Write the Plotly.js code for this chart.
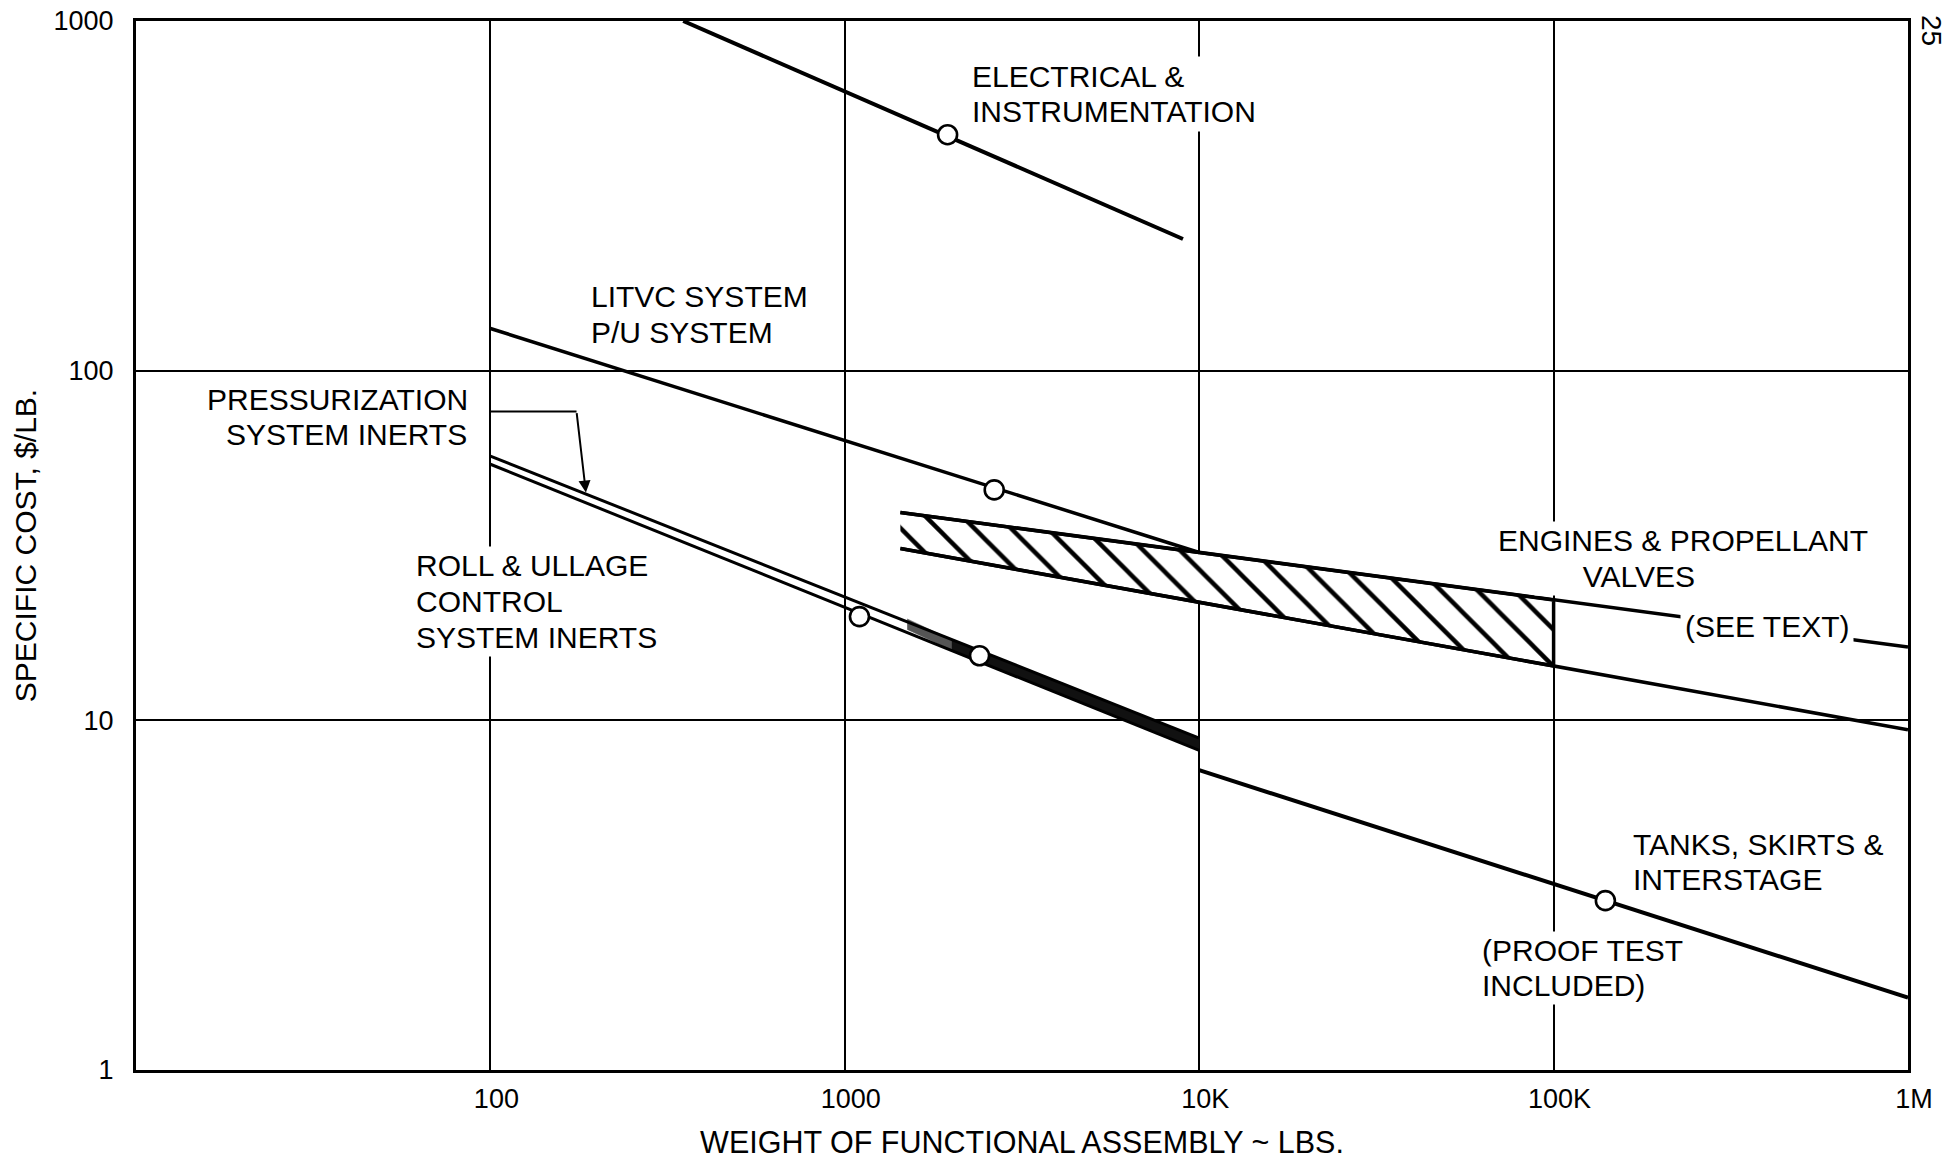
<!DOCTYPE html>
<html>
<head>
<meta charset="utf-8">
<script src="https://cdn.plot.ly/plotly-3.0.1.min.js"></script>
<style>html,body{margin:0;padding:0;background:#fff;}#chart{width:1955px;height:1159px;}</style>
</head>
<body>
<div id="chart"></div>
<script>
// ---- Axis ticks ----
const xTickVals = [100, 1000, 10000, 100000, 1000000];
const xTickText = ['100', '1000', '10K', '100K', '1M'];
const yTickVals = [1, 10, 100, 1000];
const yTickText = ['1', '10', '100', '1000'];

// ---- Electrical & instrumentation ----
const elecX = [350, 9000];
const elecY = [1000, 238];
const elecPtX = [1950];
const elecPtY = [473];

// ---- LITVC system / P/U system ----
const litvcX = [100, 10000];
const litvcY = [132, 30.2];
const litvcPtX = [2640];
const litvcPtY = [45.6];

// ---- Engines & propellant valves (band) ----
const engTopX = [1435, 1000000];
const engTopY = [39.3, 16.2];
const engBotX = [1435, 1000000];
const engBotY = [31, 9.4];
const engBandX = [1435, 100000, 100000, 1435];
const engBandY = [39.3, 22.1, 14.3, 31];

// ---- Pressurization system inerts / Roll & ullage control system inerts ----
const pressX = [100, 10000];
const pressY = [57, 8.9];
const rollX = [100, 10000];
const rollY = [54, 8.2];
const halfX = [1500, 2000, 2000, 1500];
const halfY = [19.5, 17.0, 15.9, 18.2];
const denseX = [2000, 10000, 10000, 2000];
const denseY = [17.0, 8.9, 8.2, 15.9];
const rollPtX = [1100, 2400];
const rollPtY = [19.8, 15.3];
const pressLeaderX = [100, 175];
const pressLeaderY = [76.4, 76.4];
const pressArrowTip = [186, 44.8];

// ---- Tanks, skirts & interstage ----
const tankX = [10000, 1000000];
const tankY = [7.2, 1.61];
const tankPtX = [140000];
const tankPtY = [3.05];

const INK = '#000';
const FONT = 'Liberation Sans, Arial, sans-serif';

function line(x, y, w) {
  return {x: x, y: y, type: 'scatter', mode: 'lines', line: {color: INK, width: w || 3.5}, hoverinfo: 'skip'};
}
function pts(x, y) {
  return {x: x, y: y, type: 'scatter', mode: 'markers',
    marker: {size: 19, color: 'white', line: {color: INK, width: 2.6}}, hoverinfo: 'skip'};
}

const traces = [
  // hatched band
  {x: engBandX, y: engBandY, type: 'scatter', mode: 'lines', fill: 'toself',
   fillcolor: 'white', line: {color: INK, width: 3.5},
   fillpattern: {shape: '\\', size: 26, solidity: 0.17, fgcolor: INK, bgcolor: 'white', fillmode: 'replace'},
   hoverinfo: 'skip'},
  line(engTopX, engTopY, 3.6),
  line(engBotX, engBotY, 3.6),
  line(elecX, elecY, 4),
  line(litvcX, litvcY, 3.5),
  // partly and fully filled part between the two inerts lines
  {x: halfX, y: halfY, type: 'scatter', mode: 'lines', fill: 'toself', fillcolor: '#555',
   line: {color: '#555', width: 0.5}, hoverinfo: 'skip'},
  {x: denseX, y: denseY, type: 'scatter', mode: 'lines', fill: 'toself', fillcolor: '#111',
   line: {color: '#111', width: 1}, hoverinfo: 'skip'},
  line(pressX, pressY, 3),
  line(rollX, rollY, 3),
  line(pressLeaderX, pressLeaderY, 2),
  line(tankX, tankY, 4),
  pts(elecPtX, elecPtY),
  pts(litvcPtX, litvcPtY),
  pts(rollPtX, rollPtY),
  pts(tankPtX, tankPtY)
];

// plot area in page pixels
const PL = 136, PR = 1908, PT = 21, PB = 1070;
function px(xp) { return (xp - PL) / (PR - PL); }
function py(yp) { return (PB - yp) / (PB - PT); }

function lbl(text, x, y, anchor, extra) {
  const a = {text: text, xref: 'paper', yref: 'paper', x: px(x), y: py(y),
    xanchor: anchor || 'left', yanchor: 'middle', showarrow: false,
    font: {family: FONT, size: 30, color: INK}, borderpad: 1};
  return Object.assign(a, extra || {});
}

const annotations = [
  lbl('ELECTRICAL &', 968, 77, 'left', {bgcolor: 'white', width: 240, align: 'left', borderpad: 3}),
  lbl('INSTRUMENTATION', 968, 112, 'left', {bgcolor: 'white', borderpad: 3}),
  lbl('LITVC SYSTEM', 589, 297),
  lbl('P/U SYSTEM', 589, 332),
  lbl('PRESSURIZATION', 470, 399, 'right'),
  lbl('SYSTEM INERTS', 469, 434, 'right'),
  lbl('ROLL & ULLAGE', 413, 565, 'left', {bgcolor: 'white', borderpad: 2}),
  lbl('CONTROL', 413, 601, 'left', {bgcolor: 'white', borderpad: 2}),
  lbl('SYSTEM INERTS', 413, 637, 'left', {bgcolor: 'white', borderpad: 2}),
  lbl('ENGINES & PROPELLANT', 1495, 540, 'left', {bgcolor: 'white', borderpad: 2}),
  lbl('VALVES', 1534, 576, 'left', {bgcolor: 'white', width: 158, align: 'right', borderpad: 2}),
  lbl('(SEE TEXT)', 1680, 626, 'left', {bgcolor: 'white', borderpad: 4}),
  lbl('TANKS, SKIRTS &', 1631, 844),
  lbl('INTERSTAGE', 1631, 879),
  lbl('(PROOF TEST', 1479, 950, 'left', {bgcolor: 'white', borderpad: 2}),
  lbl('INCLUDED)', 1479, 985, 'left', {bgcolor: 'white', borderpad: 2}),
  // arrow head for pressurization leader
  {xref: 'x', yref: 'y', axref: 'x', ayref: 'y',
   x: Math.log10(pressArrowTip[0]), y: Math.log10(pressArrowTip[1]),
   ax: Math.log10(pressLeaderX[1]), ay: Math.log10(pressLeaderY[1]),
   showarrow: true, arrowhead: 2, arrowsize: 1.2, arrowwidth: 2, arrowcolor: INK, text: ''},
  // page number
  {text: '25', xref: 'paper', yref: 'paper', x: px(1932), y: py(30), xanchor: 'center', yanchor: 'middle',
   textangle: 90, showarrow: false, font: {family: FONT, size: 28, color: INK}}
];

const axisCommon = {
  type: 'log', showgrid: true, gridcolor: INK, gridwidth: 2,
  showline: true, mirror: true, linecolor: INK, linewidth: 3,
  ticks: '', zeroline: false, automargin: false, fixedrange: true,
  tickfont: {family: FONT, size: 27, color: INK}
};

const layout = {
  width: 1955, height: 1159,
  margin: {l: PL, r: 1955 - PR, t: PT, b: 1159 - PB},
  paper_bgcolor: 'white', plot_bgcolor: 'white',
  showlegend: false,
  font: {family: FONT, color: INK},
  xaxis: Object.assign({}, axisCommon, {
    range: [1, 6], tickvals: xTickVals, ticktext: xTickText,
    ticklabelstandoff: 3, ticklabelshift: 6,
    title: {text: 'WEIGHT OF FUNCTIONAL ASSEMBLY ~ LBS.', font: {family: FONT, size: 30.5, color: INK}, standoff: 20}
  }),
  yaxis: Object.assign({}, axisCommon, {
    range: [0, 3], tickvals: yTickVals, ticktext: yTickText,
    ticklabelstandoff: 14,
    title: {text: 'SPECIFIC COST, $/LB.', font: {family: FONT, size: 30, color: INK}, standoff: 9}
  }),
  annotations: annotations
};

Plotly.newPlot('chart', traces, layout, {displayModeBar: false, staticPlot: true});
</script>
</body>
</html>
